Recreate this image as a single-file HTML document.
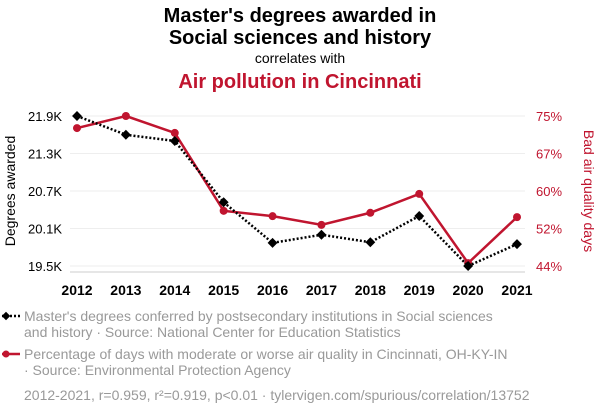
<!DOCTYPE html>
<html><head><meta charset="utf-8">
<style>
body{margin:0;background:#fff;font-family:"Liberation Sans",sans-serif;}
#wrap{position:relative;width:600px;height:414px;overflow:hidden;}
svg text{font-family:"Liberation Sans",sans-serif;}
</style></head>
<body>
<div id="wrap">
<svg id="chart" width="600" height="414">
<text x="300" y="22" text-anchor="middle" font-size="20" font-weight="bold" fill="#000">Master's degrees awarded in</text>
<text x="300" y="44" text-anchor="middle" font-size="20" font-weight="bold" fill="#000">Social sciences and history</text>
<text x="300" y="63" text-anchor="middle" font-size="14" fill="#000">correlates with</text>
<text x="300" y="88" text-anchor="middle" font-size="20" font-weight="bold" fill="#c0152f">Air pollution in Cincinnati</text>
<g id="grid"></g>
<g id="axes"></g>
<g id="series"></g>
<text transform="translate(15,191) rotate(-90)" text-anchor="middle" font-size="14" fill="#000">Degrees awarded</text>
<text transform="translate(584,191) rotate(90)" text-anchor="middle" font-size="14" fill="#c0152f">Bad air quality days</text>
<g>
<line x1="2" y1="316" x2="20" y2="316" stroke="#000" stroke-width="2.5" stroke-dasharray="2,2"/>
<rect x="3" y="313" width="6" height="6" transform="rotate(45 6 316)" fill="#000"/>
<text x="24" y="321" font-size="14" fill="#999">Master's degrees conferred by postsecondary institutions in Social sciences</text>
<text x="24" y="337" font-size="14" fill="#999">and history · Source: National Center for Education Statistics</text>
</g>
<g>
<line x1="2" y1="354" x2="20" y2="354" stroke="#c0152f" stroke-width="2.5"/>
<circle cx="6" cy="354" r="3.5" fill="#c0152f"/>
<text x="24" y="359" font-size="14" fill="#999">Percentage of days with moderate or worse air quality in Cincinnati, OH-KY-IN</text>
<text x="24" y="375" font-size="14" fill="#999">· Source: Environmental Protection Agency</text>
</g>
<text x="24" y="400" font-size="14" fill="#999">2012-2021, r=0.959, r²=0.919, p&lt;0.01 · tylervigen.com/spurious/correlation/13752</text>
</svg>
</div>
<script>
const years=[2012,2013,2014,2015,2016,2017,2018,2019,2020,2021];
const degrees=[21.9,21.6,21.5,20.52,19.87,20.0,19.88,20.3,19.5,19.85];
const airPct=[72.5,75.0,71.5,55.4,54.3,52.5,55.0,58.9,44.6,54.1];
const leftTicks=[19.5,20.1,20.7,21.3,21.9];
const leftTickLabels=["19.5K","20.1K","20.7K","21.3K","21.9K"];
const rightTicks=[44,51.75,59.5,67.25,75];
const rightTickLabels=["44%","52%","60%","67%","75%"];

const NS="http://www.w3.org/2000/svg";
const x=i=>77+i*(517-77)/9;
const yL=v=>266-(v-19.5)*(150/2.4);
const yR=v=>266-(v-44)*(150/31);
function mk(tag,attrs,parent){const e=document.createElementNS(NS,tag);for(const k in attrs)e.setAttribute(k,attrs[k]);parent.appendChild(e);return e;}
const grid=document.getElementById('grid'),axes=document.getElementById('axes'),ser=document.getElementById('series');
leftTicks.forEach((t,i)=>{
  const g=mk('line',{x1:70,x2:525,y1:yL(t),y2:yL(t),stroke:'#eee','stroke-width':1},grid);
  
  
  const tx=mk('text',{x:62,y:yL(t)+5,'text-anchor':'end','font-size':13,fill:'#000'},axes);
  tx.textContent=leftTickLabels[i];
  
  
});
rightTicks.forEach((t,i)=>{
  const tx=mk('text',{x:536,y:yR(t)+5,'font-size':13,fill:'#c0152f'},axes);
  tx.textContent=rightTickLabels[i];
  
  
});
const xa=mk('line',{x1:70,x2:525,y1:272,y2:272,stroke:'#ccc'},axes);


years.forEach((yr,i)=>{
  const tx=mk('text',{x:x(i),y:295,'text-anchor':'middle','font-size':14,'font-weight':'bold',fill:'#000'},axes);
  tx.textContent=yr;
  
  
});
const rl=mk('polyline',{points:airPct.map((v,i)=>x(i)+','+yR(v)).join(' '),fill:'none',stroke:'#c0152f','stroke-width':2.5},ser);


airPct.forEach((v,i)=>{
  const c=mk('circle',{cx:x(i),cy:yR(v),r:4,fill:'#c0152f'},ser);
  
  
});
const bl=mk('polyline',{points:degrees.map((v,i)=>x(i)+','+yL(v)).join(' '),fill:'none',stroke:'#000','stroke-width':2.5,'stroke-dasharray':'2,2'},ser);


degrees.forEach((v,i)=>{
  const r=mk('rect',{x:x(i)-3.5,y:yL(v)-3.5,width:7,height:7,fill:'#000',transform:`rotate(45 ${x(i)} ${yL(v)})`},ser);
  
  
});
</script>
</body></html>
